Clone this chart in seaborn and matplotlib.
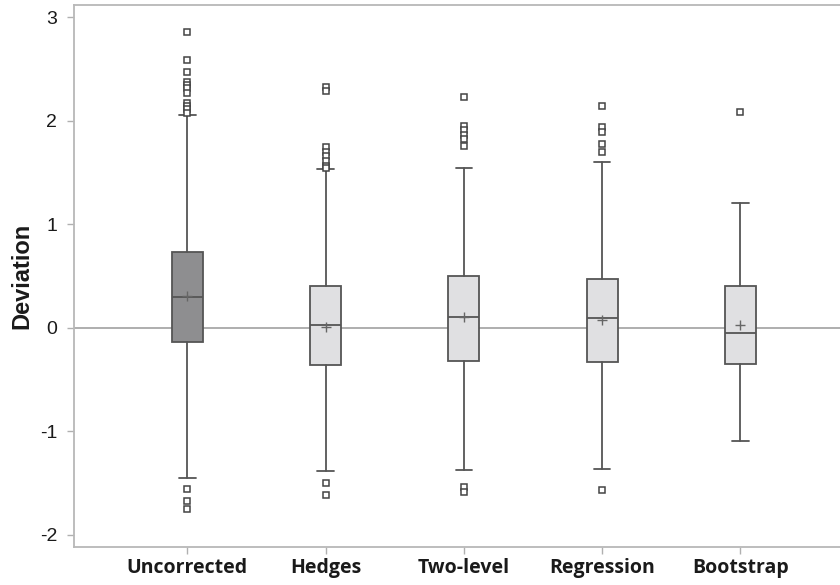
import matplotlib
matplotlib.use("Agg")
import matplotlib.pyplot as plt
import seaborn as sns
import pandas as pd

# Summary statistics
methods = ["Uncorrected", "Hedges", "Two-level", "Regression", "Bootstrap"]
q1 = [-0.14, -0.36, -0.32, -0.33, -0.35]
median = [0.30, 0.03, 0.10, 0.09, -0.05]
q3 = [0.73, 0.40, 0.50, 0.47, 0.40]
mean = [0.31, 0.01, 0.10, 0.07, 0.03]
whisker_low = [-1.45, -1.39, -1.38, -1.37, -1.10]
whisker_high = [2.06, 1.53, 1.54, 1.60, 1.21]
outliers = [
    [2.86, 2.59, 2.47, 2.38, 2.35, 2.32, 2.27, 2.17, 2.14, 2.11, 2.08,
     -1.56, -1.68, -1.75],
    [2.33, 2.29, 1.75, 1.70, 1.66, 1.61, 1.56, 1.54, -1.50, -1.62],
    [2.23, 1.95, 1.91, 1.86, 1.82, 1.76, -1.54, -1.59],
    [2.14, 1.94, 1.89, 1.78, 1.70, -1.57],
    [2.09],
]
box_colors = ["#8e8e90", "#e0e0e2", "#e0e0e2", "#e0e0e2", "#e0e0e2"]

stats = pd.DataFrame({
    "label": methods, "q1": q1, "med": median, "q3": q3, "mean": mean,
    "whislo": whisker_low, "whishi": whisker_high, "fliers": outliers,
})

sns.set_theme(style="white")
plt.rcParams["font.family"] = ["Liberation Sans", "DejaVu Sans"]

fig = plt.figure(figsize=(8.4, 5.85), dpi=100)
ax = fig.add_axes([0.088, 0.065, 0.912, 0.9265])

edge = "#555555"
ax.axhline(0, color="#a8a8a8", lw=1.3, zorder=0)
res = ax.bxp(
    stats.to_dict("records"),
    positions=range(len(methods)),
    widths=0.225,
    patch_artist=True,
    showmeans=True,
    boxprops=dict(edgecolor=edge, linewidth=1.3),
    medianprops=dict(color=edge, linewidth=1.3),
    whiskerprops=dict(color=edge, linewidth=1.3),
    capprops=dict(color=edge, linewidth=1.3),
    capwidths=0.12,
    flierprops=dict(marker="s", markersize=5, markerfacecolor="white",
                    markeredgecolor="#444444", markeredgewidth=1.1),
    meanprops=dict(marker="+", markersize=7, markeredgecolor="#666666",
                   markeredgewidth=1.0),
)
for patch, c in zip(res["boxes"], box_colors):
    patch.set_facecolor(c)

ax.set_xlim(-0.82, 4.72)
ax.set_ylim(-2.12, 3.12)
ax.set_yticks([-2, -1, 0, 1, 2, 3])
ax.set_yticklabels(["-2", "-1", "0", "1", "2", "3"], fontsize=14, color="#1a1a1a")
ax.set_xticks(range(len(methods)))
ax.set_xticklabels(methods, fontsize=14, fontweight="bold", color="#1a1a1a",
                   family=["Open Sans", "DejaVu Sans"])
ax.tick_params(axis="both", which="both", length=5, width=1, color="#b0b0b0",
               bottom=True, left=True)
ax.tick_params(axis="y", pad=7)
ax.tick_params(axis="x", pad=3)
ax.set_ylabel("Deviation", fontsize=17, fontweight="bold", color="#1a1a1a",
              labelpad=5)

for side in ["left", "bottom", "top"]:
    ax.spines[side].set_color("#b8b8b8")
    ax.spines[side].set_linewidth(1.3)
ax.spines["right"].set_visible(False)

fig.savefig("out.png", dpi=100)
